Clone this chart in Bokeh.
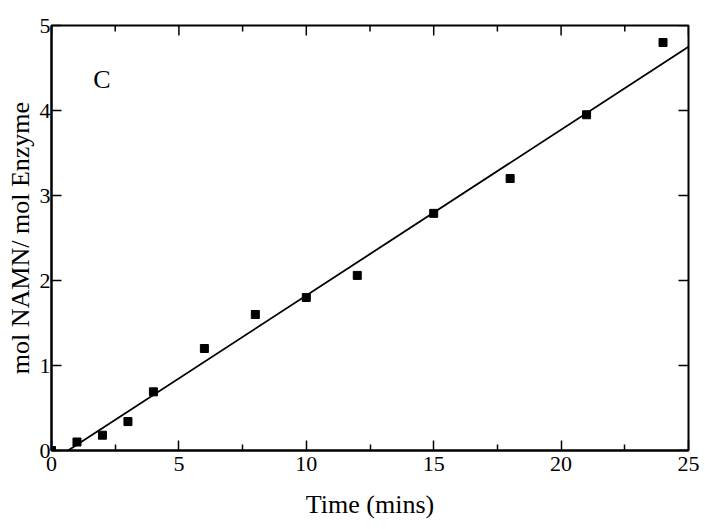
import math
from bokeh.plotting import figure
from bokeh.models import Range1d, FixedTicker
from bokeh.core.properties import value
from bokeh.embed import file_html
from bokeh.resources import INLINE

# Data
time_min = [0, 1, 2, 3, 4, 6, 8, 10, 12, 15, 18, 21, 24]
mol_ratio = [0.0, 0.10, 0.18, 0.34, 0.69, 1.20, 1.60, 1.80, 2.06, 2.79, 3.20, 3.95, 4.80]
fit_x = [0.65, 25.0]
fit_y = [0.0, 4.75]
x_major = [0, 5, 10, 15, 20, 25]
x_minor = [2.5, 7.5, 12.5, 17.5, 22.5]
y_major = [0, 1, 2, 3, 4, 5]
X_MAX = 25
Y_MAX = 5

FONT = "Liberation Serif"

p = figure(width=705, height=529, output_backend="svg", toolbar_location=None,
           x_range=Range1d(0, X_MAX), y_range=Range1d(0, Y_MAX),
           min_border_left=51, min_border_right=17, min_border_top=25, min_border_bottom=79)
p.outline_line_color = "black"
p.outline_line_width = 2
p.grid.visible = False
p.background_fill_color = "white"

p.line(fit_x, fit_y, line_color="black", line_width=1.8)
p.scatter(time_min, mol_ratio, marker="square", size=8, fill_color="black", line_color="black")
p.text(x=[1.98], y=[4.36], text=["C"], text_font=value(FONT), text_font_size="26px",
       text_align="center", text_baseline="middle", text_color="black")

# mirrored inward ticks on top and right edges
p.ray(x=x_major, y=[Y_MAX] * len(x_major), length=10, length_units="screen",
      angle=-math.pi / 2, line_color="black", line_width=1.5)
p.ray(x=x_minor, y=[Y_MAX] * len(x_minor), length=6, length_units="screen",
      angle=-math.pi / 2, line_color="black", line_width=1.5)
p.ray(x=[X_MAX] * len(y_major), y=y_major, length=10, length_units="screen",
      angle=math.pi, line_color="black", line_width=1.5)


def style(ax):
    ax.axis_line_width = 2
    ax.axis_line_color = "black"
    ax.major_tick_in = 10
    ax.major_tick_out = 0
    ax.minor_tick_in = 6
    ax.minor_tick_out = 0
    ax.major_tick_line_width = 1.5
    ax.minor_tick_line_width = 1.5
    ax.major_label_text_font = FONT
    ax.major_label_text_font_size = "22px"
    ax.major_label_text_color = "black"
    ax.axis_label_text_font = FONT
    ax.axis_label_text_font_size = "26px"
    ax.axis_label_text_font_style = "normal"
    ax.axis_label_text_color = "black"


xa = p.xaxis[0]
xa.ticker = FixedTicker(ticks=x_major, minor_ticks=x_minor)
xa.axis_label = "Time (mins)"
style(xa)
xa.major_label_standoff = 6
xa.axis_label_standoff = 16

ya = p.yaxis[0]
ya.ticker = FixedTicker(ticks=y_major, minor_ticks=[])
ya.axis_label = "mol NAMN/ mol Enzyme"
style(ya)
ya.major_label_standoff = 1
ya.axis_label_standoff = 2

open("out.html", "w").write(file_html(p, INLINE))
